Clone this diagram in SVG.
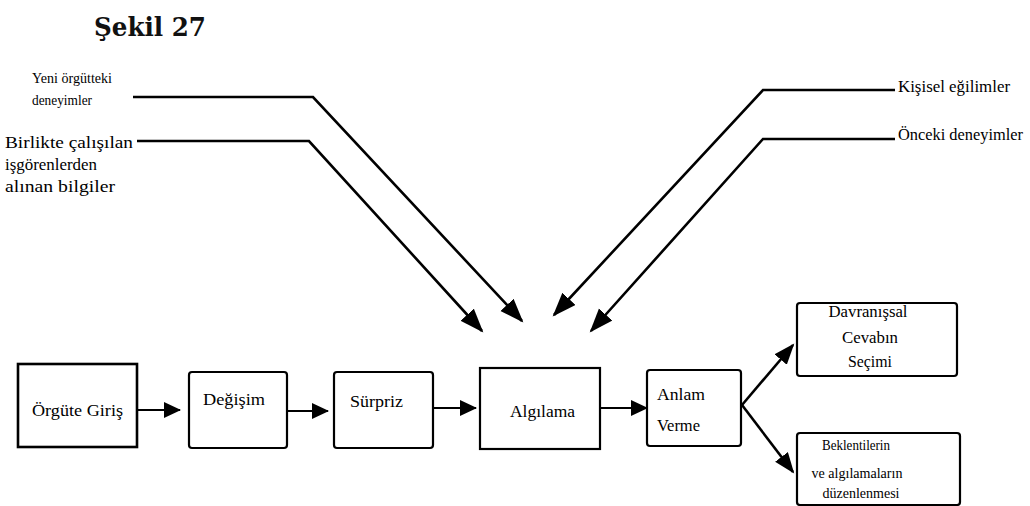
<svg xmlns="http://www.w3.org/2000/svg" width="1030" height="506" viewBox="0 0 1030 506">
  <style>
    .box { fill: #fff; stroke: #000; stroke-width: 2.2; }
    .lbl { font-family: "Liberation Serif", "DejaVu Serif", serif; font-size: 17px; fill: #000; }
    .sm { font-family: "Liberation Serif", "DejaVu Serif", serif; font-size: 15px; fill: #000; }
    .title { font-family: "DejaVu Serif", "Liberation Serif", serif; font-size: 26px; font-weight: bold; fill: #111; }
    .flow { fill: none; stroke: #000; stroke-width: 2.2; }
    .feed { fill: none; stroke: #000; stroke-width: 2.6; stroke-linejoin: miter; }
  </style>
  <defs>
    <marker id="arrowH" markerUnits="userSpaceOnUse" markerWidth="18" markerHeight="18" refX="16" refY="8" orient="auto">
      <path d="M0,0 L17,8 L0,16 z" fill="#000"/>
    </marker>
    <marker id="arrowD" markerUnits="userSpaceOnUse" markerWidth="26" markerHeight="20" refX="22" refY="9" orient="auto">
      <path d="M0,0 L24,9 L0,18 z" fill="#000"/>
    </marker>
    <marker id="arrowB" markerUnits="userSpaceOnUse" markerWidth="22" markerHeight="18" refX="19" refY="8" orient="auto">
      <path d="M0,0 L21,8 L0,16 z" fill="#000"/>
    </marker>
  </defs>

  <text class="title" x="94" y="36" textLength="112" lengthAdjust="spacingAndGlyphs">Şekil 27</text>

  <!-- side inputs -->
  <g id="input-yeni">
    <text class="sm" x="32" y="83" textLength="80" lengthAdjust="spacingAndGlyphs">Yeni örgütteki</text>
    <text class="sm" x="32" y="105" textLength="60" lengthAdjust="spacingAndGlyphs">deneyimler</text>
  </g>
  <g id="input-birlikte">
    <text class="lbl" x="5" y="148" textLength="128" lengthAdjust="spacingAndGlyphs">Birlikte çalışılan</text>
    <text class="lbl" x="5" y="170" textLength="92" lengthAdjust="spacingAndGlyphs">işgörenlerden</text>
    <text class="lbl" x="5" y="192" textLength="110" lengthAdjust="spacingAndGlyphs">alınan bilgiler</text>
  </g>
  <g id="input-kisisel">
    <text class="lbl" x="898" y="92" textLength="112" lengthAdjust="spacingAndGlyphs">Kişisel  eğilimler</text>
  </g>
  <g id="input-onceki">
    <text class="lbl" x="898" y="140" textLength="125" lengthAdjust="spacingAndGlyphs">Önceki deneyimler</text>
  </g>

  <!-- main chain -->
  <g id="orgute-giris">
    <rect class="box" x="18" y="364" width="119" height="83" style="stroke-width:2.6"/>
    <text class="lbl" x="32" y="416" textLength="91" lengthAdjust="spacingAndGlyphs">Örgüte Giriş</text>
  </g>
  <g id="degisim">
    <rect class="box" x="189" y="372" width="98" height="76" rx="3"/>
    <text class="lbl" x="203" y="405" textLength="62" lengthAdjust="spacingAndGlyphs">Değişim</text>
  </g>
  <g id="surpriz">
    <rect class="box" x="334" y="372" width="99" height="76" rx="3"/>
    <text class="lbl" x="350" y="407" textLength="53" lengthAdjust="spacingAndGlyphs">Sürpriz</text>
  </g>
  <g id="algilama">
    <rect class="box" x="480" y="368" width="120" height="81"/>
    <text class="lbl" x="510" y="417" textLength="65" lengthAdjust="spacingAndGlyphs">Algılama</text>
  </g>
  <g id="anlam-verme">
    <rect class="box" x="647" y="370" width="94" height="76" rx="3"/>
    <text class="lbl" x="657" y="400" textLength="48" lengthAdjust="spacingAndGlyphs">Anlam</text>
    <text class="lbl" x="657" y="431" textLength="43" lengthAdjust="spacingAndGlyphs">Verme</text>
  </g>
  <g id="davranissal">
    <rect class="box" x="797" y="303" width="160" height="73" rx="3"/>
    <text class="lbl" x="868" y="317" text-anchor="middle" textLength="79" lengthAdjust="spacingAndGlyphs">Davranışsal</text>
    <text class="lbl" x="870" y="343" text-anchor="middle" textLength="56" lengthAdjust="spacingAndGlyphs">Cevabın</text>
    <text class="lbl" x="870" y="367" text-anchor="middle" textLength="44" lengthAdjust="spacingAndGlyphs">Seçimi</text>
  </g>
  <g id="beklentiler">
    <rect class="box" x="797" y="433" width="163" height="72" rx="3"/>
    <text class="sm" x="856" y="450" text-anchor="middle" textLength="68" lengthAdjust="spacingAndGlyphs">Beklentilerin</text>
    <text class="sm" x="857" y="478" text-anchor="middle" textLength="91" lengthAdjust="spacingAndGlyphs">ve algılamaların</text>
    <text class="sm" x="861" y="498" text-anchor="middle" textLength="77" lengthAdjust="spacingAndGlyphs">düzenlenmesi</text>
  </g>

  <g id="connectors">
    <line class="flow" x1="137" y1="410" x2="180" y2="410" marker-end="url(#arrowH)"/>
    <line class="flow" x1="287" y1="411" x2="328" y2="411" marker-end="url(#arrowH)"/>
    <line class="flow" x1="433" y1="408" x2="476" y2="408" marker-end="url(#arrowH)"/>
    <line class="flow" x1="600" y1="408" x2="647" y2="408" marker-end="url(#arrowH)"/>
    <line class="feed" x1="742" y1="405" x2="793" y2="345" marker-end="url(#arrowB)"/>
    <line class="feed" x1="742" y1="405" x2="793" y2="472" marker-end="url(#arrowB)"/>
    <path class="feed" d="M133,97 H313 L522,321" marker-end="url(#arrowD)"/>
    <path class="feed" d="M137,141 H309 L482,331" marker-end="url(#arrowD)"/>
    <path class="feed" d="M895,90 H763 L554,315" marker-end="url(#arrowD)"/>
    <path class="feed" d="M895,139 H763 L591,331" marker-end="url(#arrowD)"/>
  </g>
</svg>
